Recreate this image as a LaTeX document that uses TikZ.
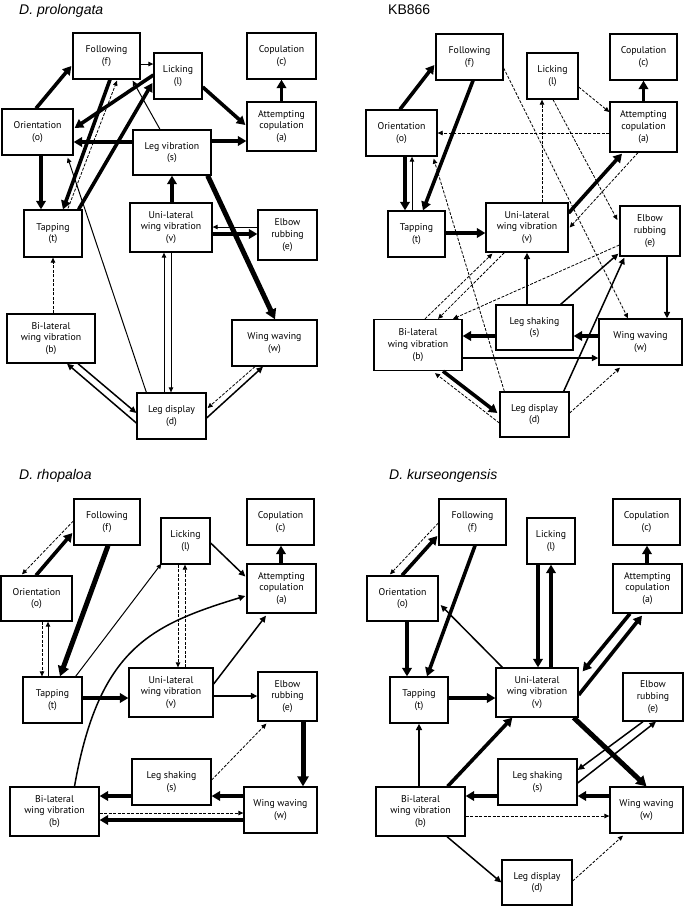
\documentclass[tikz,border=0pt]{standalone}
\usepackage{fontspec}
\setmainfont{PT Sans}
\newfontfamily\headfont{Liberation Sans}
\usetikzlibrary{arrows.meta,calc}

\begin{document}
\begin{tikzpicture}[x=1pt,y=-1pt,
    box/.style={draw, line width=1.3pt, align=center, inner sep=0pt,
      font=\fontsize{9.8}{11.7}\selectfont},
    w1/.style={line width=1pt, -{Triangle[length=5pt,width=4.5pt]}},
    w2/.style={line width=1.5pt, -{Triangle[length=6.5pt,width=6pt]}},
    w3/.style={line width=3.6pt, -{Triangle[length=8.5pt,width=9.5pt]}},
    w4/.style={line width=5pt, -{Triangle[length=10pt,width=11pt]}},
    wd/.style={w1, line width=0.8pt, dash pattern=on 3pt off 1.5pt},
    head/.style={anchor=base west, inner sep=0pt,
      font=\headfont\fontsize{14}{16}\selectfont},
  ]
  \fill[white] (0,0) rectangle (685,906);
  \useasboundingbox (0,0) rectangle (685,906);

  % D. prolongata
  \node[head] (ttlA) at (19,14) {\itshape D. prolongata};
  \foreach \n/\x/\y/\w/\h/\lab in {
      f/106.5/56/67/46/Following\\(f),
      l/178/76/48/46/Licking\\(l),
      c/281.5/56/69/46/Copulation\\(c),
      a/281.5/126.5/69/49/Attempting\\copulation\\(a),
      o/37.5/132/71/46/Orientation\\(o),
      s/172/152.5/78/45/Leg vibration\\(s),
      v/171/227.5/82/49/Uni-lateral\\wing vibration\\(v),
      t/53/233.5/58/47/Tapping\\(t),
      e/287.5/235/59/50/Elbow\\rubbing\\(e),
      b/51/338.5/88/49/Bi-lateral\\wing vibration\\(b),
      w/274.5/343/85/46/Wing waving\\(w),
      d/171.5/416/69/46/Leg display\\(d)}
    \node[box, minimum width=\w pt, minimum height=\h pt] (A-\n) at (\x,\y) {\lab};

  \draw[w3] ($(A-o.north)+(-1.5,0)$) -- ($(A-f.west)+(-1,10)$);
  \draw[w1] ($(A-f.east)+(0,8)$) -- ($(A-l.west)+(0,-12)$);
  \draw[w3] ($(A-l.west)+(0,-1)$) -- ($(A-o.east)+(1,-4)$);
  \draw[w3] ($(A-l.east)+(0,11)$) -- ($(A-a.west)+(-1,-1.5)$);
  \draw[w3] (A-a) -- (A-c);
  \draw[w3] ($(A-s.west)+(0,-10.5)$) -- ($(A-o.east)+(0,10)$);
  \draw[w3] ($(A-s.east)+(0,-11.5)$) -- ($(A-a.west)+(0,14.5)$);
  \draw[w3] ($(A-o.south)+(3.5,0)$) -- ($(A-t.north)+(-12,0)$);
  \draw[w3] ($(A-f.south)+(3.5,0)$) -- ($(A-t.north)+(10,0)$);
  \draw[w3] ($(A-t.north east)+(-4,0)$) -- ($(A-l.west)+(-1,7)$);
  \draw[wd] ($(A-t.north)+(15,-1)$) -- ($(A-f.south)+(10.5,1)$);
  \draw[w1] ($(A-s.north)+(-12,0)$) -- ($(A-f.south east)+(-8,1)$);
  \draw[w1] ($(A-d.north west)+(10,0)$) -- ($(A-o.south east)+(-6,2)$);
  \draw[w3] ($(A-v.north)+(1,0)$) -- (A-s.south);
  \draw[w4] ($(A-s.south east)+(-4,0)$) -- ($(A-w.north)+(0.5,0)$);
  \draw[w1] ($(A-e.west)+(0,-8)$) -- ($(A-v.east)+(0,-0.5)$);
  \draw[w3] ($(A-v.east)+(0,6.5)$) -- ($(A-e.west)+(0,-1)$);
  \draw[wd] ($(A-b.north)+(2,0)$) -- (A-t.south);
  \draw[w1] ($(A-d.north)+(-7.5,0)$) -- ($(A-v.south)+(-7,0)$);
  \draw[w1] (A-v.south) -- ($(A-d.north)+(-0.5,0)$);
  \draw[w2] ($(A-d.west)+(0,7)$) -- ($(A-b.south)+(16,0)$);
  \draw[w2] ($(A-b.south)+(27,0)$) -- ($(A-d.west)+(0,-3)$);
  \draw[wd] ($(A-w.south)+(-19.5,0)$) -- ($(A-d.east)+(1,-8)$);
  \draw[w2] ($(A-d.east)+(0,2)$) -- ($(A-w.south)+(-11.5,0)$);

  % KB866
  \node[head] (ttlB) at (388,14) {KB866};
  \foreach \n/\x/\y/\w/\h/\lab in {
      f/469.5/57/67/46/Following\\(f),
      l/552.5/76/51/46/Licking\\(l),
      c/643.5/57/67/46/Copulation\\(c),
      a/643.5/127/67/50/Attempting\\copulation\\(a),
      o/401.5/133/71/46/Orientation\\(o),
      t/416.5/234/57/46/Tapping\\(t),
      v/527/227.5/82/49/Uni-lateral\\wing vibration\\(v),
      e/650/231/60/50/Elbow\\rubbing\\(e),
      s/534.5/327.5/77/45/Leg shaking\\(s),
      b/418/345/88/51/Bi-lateral\\wing vibration\\(b),
      w/640.5/342/83/46/Wing waving\\(w),
      d/534.5/414.5/69/45/Leg display\\(d)}
    \node[box, minimum width=\w pt, minimum height=\h pt] (B-\n) at (\x,\y) {\lab};

  \draw[w3] ($(B-o.north)+(-1.5,0)$) -- ($(B-f.west)+(-1,8)$);
  \draw[w3] ($(B-f.south)+(3.5,0)$) -- ($(B-t.north)+(6.5,0)$);
  \draw[w3] ($(B-o.south)+(3.5,0)$) -- ($(B-t.north)+(-11.5,0)$);
  \draw[w1] ($(B-t.north)+(-4.5,0)$) -- ($(B-o.south)+(10.5,0)$);
  \draw[wd] ($(B-a.west)+(0,6)$) -- (B-o.east);
  \draw[wd] ($(B-l.east)+(0,11)$) -- ($(B-a.west)+(0,-15)$);
  \draw[w3] (B-a) -- (B-c);
  \draw[wd] ($(B-v.north)+(15,0)$) -- ($(B-l.south)+(-10.5,0)$);
  \draw[wd] ($(B-f.east)+(0,11)$) -- ($(B-w.north)+(-12.5,0)$);
  \draw[wd] ($(B-l.south)+(0.5,0)$) -- ($(B-e.west)+(-2,-11)$);
  \draw[wd] ($(B-a.south)+(-5.5,0)$) -- ($(B-v.east)+(1,0)$);
  \draw[w3] ($(B-v.east)+(0,-14.5)$) -- ($(B-a.south)+(-21.5,1)$);
  \draw[w3] ($(B-t.east)+(0,-1)$) -- ($(B-v.west)+(0,5.5)$);
  \draw[w2] ($(B-e.south)+(17,0)$) -- ($(B-w.north)+(26.5,0)$);
  \draw[w2] ($(B-s.north)+(-7.5,0)$) -- (B-v.south);
  \draw[w2] ($(B-s.north east)+(-13,0)$) -- ($(B-e.south west)+(-1,-3)$);
  \draw[w2] ($(B-d.north east)+(-6,0)$) -- ($(B-e.south west)+(5,1)$);
  \draw[wd] ($(B-e.west)+(0,14)$) -- ($(B-b.north)+(35,0)$);
  \draw[wd] ($(B-b.north)+(7,0)$) -- ($(B-v.south west)+(7,1)$);
  \draw[wd] ($(B-v.south west)+(19,0)$) -- ($(B-b.north)+(20,0)$);
  \draw[w3] ($(B-s.west)+(0,8.5)$) -- ($(B-b.east)+(0,-9)$);
  \draw[w3] ($(B-w.west)+(0,-6)$) -- ($(B-s.east)+(0,8.5)$);
  \draw[w2] ($(B-b.east)+(0,13)$) -- ($(B-w.west)+(0,16)$);
  \draw[w3] ($(B-b.south)+(25,0)$) -- ($(B-d.west)+(-2,-1.5)$);
  \draw[wd] ($(B-d.west)+(0,8.5)$) -- ($(B-b.south)+(17,2)$);
  \draw[wd] ($(B-d.east)+(0,-1.5)$) -- ($(B-w.south)+(-20.5,2)$);
  \draw[wd] ($(B-d.north west)+(5,0)$) -- ($(B-o.south east)+(-4,2)$);

  % D. rhopaloa
  \node[head] (ttlC) at (19,479) {\itshape D. rhopaloa};
  \foreach \n/\x/\y/\w/\h/\lab in {
      f/107/522/66/46/Following\\(f),
      l/185.5/541/49/46/Licking\\(l),
      c/280.5/522/67/46/Copulation\\(c),
      a/281.5/588.5/69/49/Attempting\\copulation\\(a),
      o/36.5/598.5/71/45/Orientation\\(o),
      t/52.5/700/59/46/Tapping\\(t),
      v/171/692.5/84/49/Uni-lateral\\wing vibration\\(v),
      e/287.5/696.5/59/49/Elbow\\rubbing\\(e),
      s/171.5/782/79/46/Leg shaking\\(s),
      b/54.5/811.5/89/49/Bi-lateral\\wing vibration\\(b),
      w/280.5/810/73/46/Wing waving\\(w)}
    \node[box, minimum width=\w pt, minimum height=\h pt] (C-\n) at (\x,\y) {\lab};

  \draw[wd] ($(C-f.west)+(0,-1)$) -- ($(C-o.north)+(-14.5,-1)$);
  \draw[w3] ($(C-o.north)+(-0.5,0)$) -- ($(C-f.west)+(-1,11)$);
  \draw[w4] ($(C-f.south)+(1,0)$) -- ($(C-t.north)+(7.5,0)$);
  \draw[wd] ($(C-o.south)+(5.5,0)$) -- ($(C-t.north)+(-10.5,0)$);
  \draw[w1] ($(C-t.north)+(-4.5,0)$) -- ($(C-o.south)+(11.5,0)$);
  \draw[w1] ($(C-t.north east)+(-7,0)$) -- ($(C-l.south west)+(1,-1)$);
  \draw[w2] ($(C-l.east)+(0,2)$) -- ($(C-a.west)+(-1,-12)$);
  \draw[w3] ($(C-a.north)+(-0.5,0)$) -- ($(C-c.south)+(0.5,0)$);
  \draw[w2] ($(C-b.north)+(20,0)$) to[out=80, in=197, out looseness=1.4, in looseness=1]
    ($(C-a.west)+(-1,7.5)$);
  \draw[wd] ($(C-l.south)+(-7.5,0)$) -- ($(C-v.north)+(7,0)$);
  \draw[wd] ($(C-v.north)+(14,0)$) -- ($(C-l.south)+(-0.5,0)$);
  \draw[w3] ($(C-t.east)+(0,-2)$) -- ($(C-v.west)+(0,5.5)$);
  \draw[w2] ($(C-v.east)+(0,-8.5)$) -- ($(C-a.south)+(-15.5,2)$);
  \draw[w2] ($(C-v.east)+(0,3.5)$) -- ($(C-e.west)+(0,-0.5)$);
  \draw[w4] ($(C-e.south)+(15.5,0)$) -- ($(C-w.north)+(22.5,0)$);
  \draw[wd] ($(C-s.east)+(0,-2)$) -- ($(C-e.south west)+(9,2)$);
  \draw[w3] ($(C-s.west)+(0,14)$) -- ($(C-b.east)+(0,-15.5)$);
  \draw[w3] ($(C-w.west)+(0,-14)$) -- ($(C-s.east)+(0,14)$);
  \draw[wd] ($(C-b.east)+(0,1.5)$) -- ($(C-w.west)+(0,3)$);
  \draw[w3] ($(C-w.west)+(0,10)$) -- ($(C-b.east)+(0,8.5)$);

  % D. kurseongensis
  \node[head] (ttlD) at (389,479) {\itshape D. kurseongensis};
  \foreach \n/\x/\y/\w/\h/\lab in {
      f/472.5/522/67/46/Following\\(f),
      l/551/541/48/46/Licking\\(l),
      c/646.5/522/67/46/Copulation\\(c),
      a/647.5/588.5/69/49/Attempting\\copulation\\(a),
      o/402.5/598.5/71/45/Orientation\\(o),
      t/419/700/58/46/Tapping\\(t),
      v/537/692.5/82/49/Uni-lateral\\wing vibration\\(v),
      e/653/697/60/48/Elbow\\rubbing\\(e),
      s/537.5/782/79/46/Leg shaking\\(s),
      b/420.5/811.5/89/49/Bi-lateral\\wing vibration\\(b),
      w/646.5/810/73/46/Wing waving\\(w),
      d/537/882.5/70/45/Leg display\\(d)}
    \node[box, minimum width=\w pt, minimum height=\h pt] (D-\n) at (\x,\y) {\lab};

  \draw[wd] ($(D-f.west)+(0,1)$) -- ($(D-o.north)+(-12.5,-1)$);
  \draw[w3] ($(D-o.north)+(-0.5,0)$) -- ($(D-f.west)+(-1,14)$);
  \draw[w3] ($(D-f.south)+(2.5,0)$) -- ($(D-t.north)+(8,0)$);
  \draw[w3] ($(D-o.south)+(4.5,0)$) -- ($(D-t.north)+(-12,0)$);
  \draw[w2] ($(D-v.north west)+(7,0)$) -- ($(D-o.east)+(2,6.5)$);
  \draw[w3] ($(D-l.south)+(-13,0)$) -- ($(D-v.north)+(1,0)$);
  \draw[w3] ($(D-v.north)+(14,0)$) -- (D-l.south);
  \draw[w3] ($(D-a.north)+(-0.5,0)$) -- ($(D-c.south)+(0.5,0)$);
  \draw[w3] ($(D-a.south)+(-17.5,0)$) -- ($(D-v.north east)+(4,4)$);
  \draw[w3] ($(D-v.east)+(0,2.5)$) -- ($(D-a.south)+(-5.5,2)$);
  \draw[w3] ($(D-t.east)+(0,-2)$) -- ($(D-v.west)+(0,5.5)$);
  \draw[w4] ($(D-v.south east)+(-5,0)$) -- (D-w.north);
  \draw[w2] ($(D-b.north)+(-1.5,0)$) -- (D-t.south);
  \draw[w3] ($(D-b.north east)+(-18,0)$) -- ($(D-v.south west)+(17,0)$);
  \draw[w2] ($(D-e.south)+(-10,0)$) -- ($(D-s.east)+(0,-12)$);
  \draw[w2] ($(D-s.east)+(0,1)$) -- ($(D-e.south)+(3,0)$);
  \draw[w3] ($(D-s.west)+(0,14)$) -- ($(D-b.east)+(0,-15.5)$);
  \draw[w3] ($(D-w.west)+(0,-14)$) -- ($(D-s.east)+(0,14)$);
  \draw[wd] ($(D-b.east)+(0,4.5)$) -- ($(D-w.west)+(0,6)$);
  \draw[w2] ($(D-b.south)+(26.5,0)$) -- (D-d.west);
  \draw[wd] ($(D-d.east)+(0,-1.5)$) -- ($(D-w.south)+(-23.5,2)$);
\end{tikzpicture}
\end{document}
